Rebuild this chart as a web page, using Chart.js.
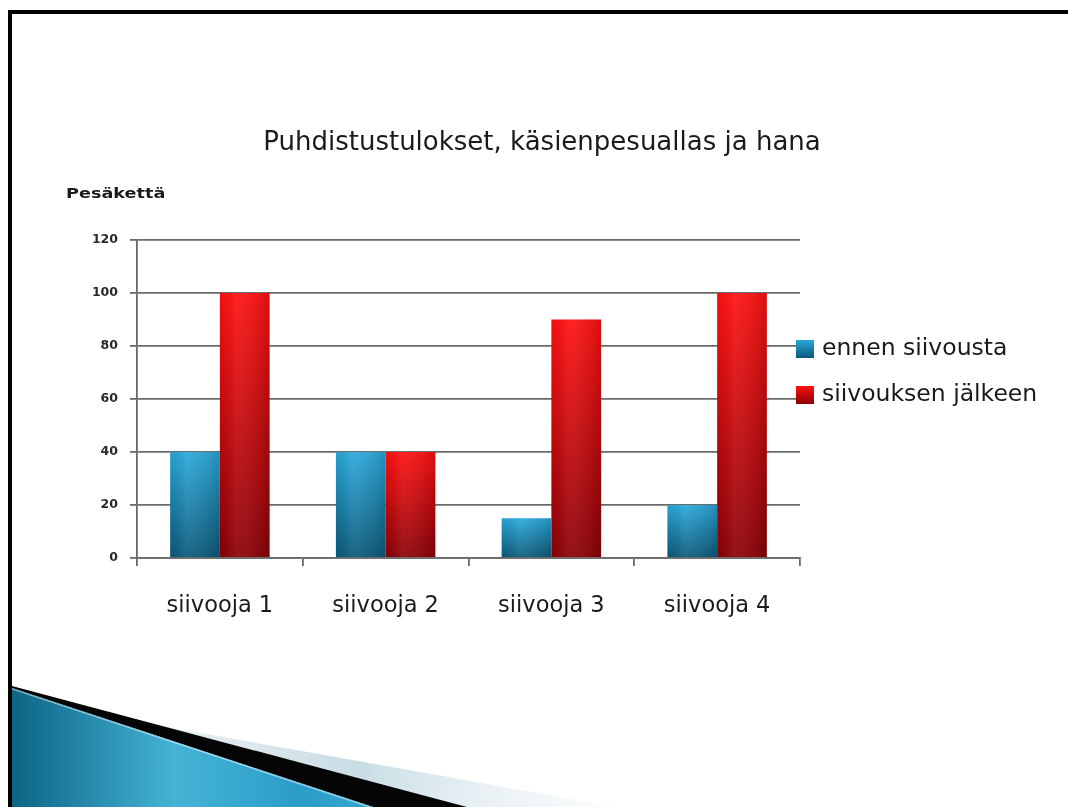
<!DOCTYPE html>
<html>
<head>
<meta charset="utf-8">
<script src="https://cdn.jsdelivr.net/npm/chart.js@4.4.0/dist/chart.umd.min.js"></script>
<style>
html, body { margin:0; padding:0; background:#fff; }
#wrap { position:relative; width:1068px; height:807px; overflow:hidden; }
#deco, #chart { position:absolute; left:0; top:0; }
</style>
</head>
<body>
<div id="wrap">
<svg id="deco" width="1068" height="807">
  <defs>
    <linearGradient id="sininen" x1="0" y1="0" x2="1" y2="0">
      <stop offset="0" stop-color="#0c6585"/>
      <stop offset="0.45" stop-color="#45b3d5"/>
      <stop offset="0.8" stop-color="#2a9dc8"/>
      <stop offset="1" stop-color="#35a6cf"/>
    </linearGradient>
    <linearGradient id="vaalea" x1="0" y1="0" x2="1" y2="0">
      <stop offset="0" stop-color="#c2d7e0" stop-opacity="0.3"/>
      <stop offset="0.45" stop-color="#c6dbe4" stop-opacity="0.95"/>
      <stop offset="1" stop-color="#f2f7f9" stop-opacity="0.3"/>
    </linearGradient>
  </defs>
  <polygon points="150,724 617,807 467,807" fill="url(#vaalea)"/>
  <polygon points="12,686 467,807 373,807 12,688" fill="#050505"/>
  <polygon points="12,688 373,807 12,807" fill="url(#sininen)"/>
  <line x1="12" y1="689" x2="373" y2="808" stroke="rgba(255,255,255,0.55)" stroke-width="1.2"/>
  <rect x="8" y="10" width="1060" height="4" fill="#000"/>
  <rect x="8" y="10" width="4" height="797" fill="#000"/>
</svg>
<canvas id="chart" width="1068" height="807"></canvas>
</div>
<script>
// tiedot
var kategoriat = ["siivooja 1", "siivooja 2", "siivooja 3", "siivooja 4"];
var sarjaNimet = ["ennen siivousta", "siivouksen jälkeen"];
var ennenSiivousta = [40, 40, 15, 20];
var siivouksenJalkeen = [100, 40, 90, 100];
var yTicks = [0, 20, 40, 60, 80, 100, 120];

var otsikko = "Puhdistustulokset, käsienpesuallas ja hana";
var yOtsikko = "Pesäkettä";

var sininen = { yla: "#29a8da", ala: "#0a5878" };
var punainen = { yla: "#ff1010", ala: "#8a0006" };

function palkkiVari(vari) {
  return function (context) {
    var chart = context.chart;
    if (!chart.chartArea || context.raw === undefined) return vari.yla;
    var y = chart.scales.y;
    var yla = y.getPixelForValue(context.raw);
    var ala = y.getPixelForValue(0);
    if (ala - yla < 1) return vari.yla;
    var g = chart.ctx.createLinearGradient(0, yla, 0, ala);
    g.addColorStop(0, vari.yla);
    g.addColorStop(1, vari.ala);
    return g;
  };
}

// vaakasuora varjostus palkkien päälle
var varjostus = {
  id: "varjostus",
  afterDatasetsDraw: function (chart) {
    var ctx = chart.ctx;
    chart.data.datasets.forEach(function (ds, i) {
      var meta = chart.getDatasetMeta(i);
      meta.data.forEach(function (el) {
        var p = el.getProps(["x", "y", "base", "width"], true);
        var vasen = p.x - p.width / 2;
        var g = ctx.createLinearGradient(vasen, 0, vasen + p.width, 0);
        g.addColorStop(0, "rgba(0,0,0,0.05)");
        g.addColorStop(0.35, "rgba(255,255,255,0.08)");
        g.addColorStop(1, "rgba(0,0,0,0.14)");
        ctx.save();
        ctx.fillStyle = g;
        ctx.fillRect(vasen, p.y, p.width, p.base - p.y);
        ctx.restore();
      });
    });
  }
};

// otsikot ja selite
var tekstit = {
  id: "tekstit",
  afterDraw: function (chart) {
    var ctx = chart.ctx;
    var a = chart.chartArea;
    ctx.save();
    ctx.fillStyle = "#1a1a1a";
    ctx.textAlign = "center";
    ctx.textBaseline = "middle";
    ctx.font = "26px 'DejaVu Sans'";
    ctx.fillText(otsikko, 542, 143);

    ctx.save();
    ctx.textAlign = "left";
    ctx.font = "bold 14px 'DejaVu Sans'";
    ctx.translate(66, 194);
    ctx.scale(1.26, 1);
    ctx.fillText(yOtsikko, 0, 0);
    ctx.restore();

    // selite
    var varit = [sininen, punainen];
    var rivit = [a.top + 109, a.top + 155];
    ctx.textAlign = "left";
    ctx.font = "23.5px 'DejaVu Sans'";
    chart.data.datasets.forEach(function (ds, i) {
      var yk = rivit[i];
      var g = ctx.createLinearGradient(0, yk - 9, 0, yk + 9);
      g.addColorStop(0, varit[i].yla);
      g.addColorStop(1, varit[i].ala);
      ctx.fillStyle = g;
      ctx.fillRect(a.right - 4, yk - 9, 18, 18);
      ctx.fillStyle = "#1a1a1a";
      ctx.fillText(ds.label, a.right + 22, yk);
    });
    ctx.restore();
  }
};

var viiva = "#6a6a6a";

new Chart(document.getElementById("chart"), {
  type: "bar",
  data: {
    labels: kategoriat,
    datasets: [
      { label: sarjaNimet[0], data: ennenSiivousta, backgroundColor: palkkiVari(sininen) },
      { label: sarjaNimet[1], data: siivouksenJalkeen, backgroundColor: palkkiVari(punainen) }
    ]
  },
  options: {
    responsive: false,
    animation: false,
    devicePixelRatio: 1,
    layout: { padding: { top: 240, right: 268, left: 0, bottom: 0 } },
    datasets: { bar: { categoryPercentage: 0.6, barPercentage: 1.0, borderWidth: 0 } },
    plugins: {
      legend: { display: false },
      title: { display: false },
      tooltip: { enabled: false }
    },
    scales: {
      x: {
        afterFit: function (s) { s.height = 249; },
        grid: { drawOnChartArea: false, drawTicks: true, tickLength: 8, color: viiva, lineWidth: 1.8, offset: true },
        border: { display: true, color: viiva, width: 1.8 },
        ticks: { color: "#1a1a1a", padding: 27, font: { family: "DejaVu Sans", size: 22.5 } }
      },
      y: {
        min: 0,
        max: 120,
        afterFit: function (s) { s.width = 137; },
        afterBuildTicks: function (s) {
          s.ticks = yTicks.map(function (v) { return { value: v }; });
        },
        grid: { color: viiva, lineWidth: 1.8, tickLength: 7, drawTicks: true },
        border: { display: true, color: viiva, width: 1.8 },
        ticks: { color: "#2a2a2a", padding: 12, font: { family: "DejaVu Sans", size: 12.5, weight: "bold" } }
      }
    }
  },
  plugins: [varjostus, tekstit]
});
</script>
</body>
</html>
